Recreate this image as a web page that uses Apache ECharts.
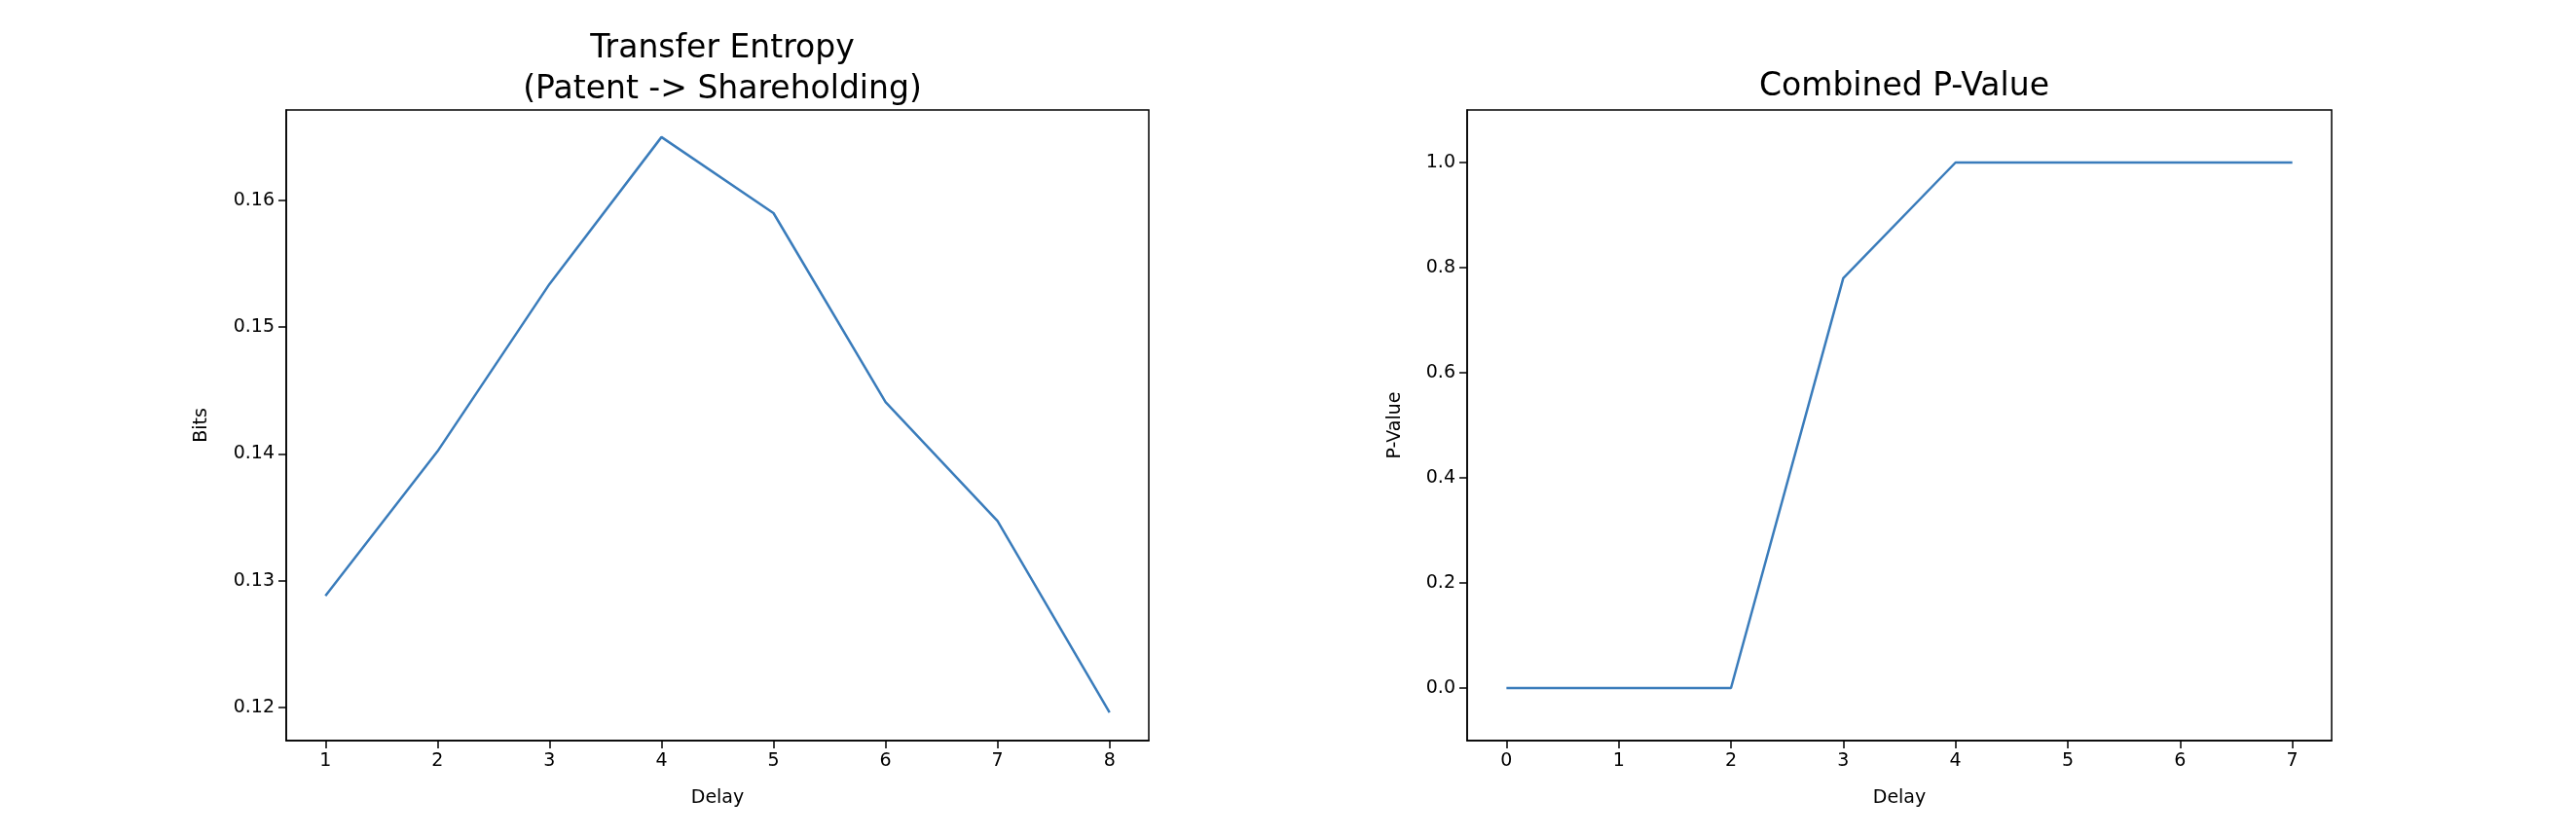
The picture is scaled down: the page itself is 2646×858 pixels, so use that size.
<!DOCTYPE html>
<html>
<head>
<meta charset="utf-8">
<script src="https://cdn.jsdelivr.net/npm/echarts@6/dist/echarts.min.js"></script>
<style>
  html, body { margin: 0; padding: 0; background: #fff; }
  #chart { width: 2646px; height: 858px; }
</style>
</head>
<body>
<div id="chart"></div>
<script>
// left panel: transfer entropy by delay
var teDelays = [1, 2, 3, 4, 5, 6, 7, 8];
var teValues = [0.1288, 0.1402, 0.1534, 0.1650, 0.1590, 0.1441, 0.1347, 0.1196];
var teXTicks = [1, 2, 3, 4, 5, 6, 7, 8];
var teYTicks = [0.12, 0.13, 0.14, 0.15, 0.16];

// right panel: combined p-value by delay
var pDelays = [0, 1, 2, 3, 4, 5, 6, 7];
var pValues = [0, 0, 0, 0.78, 1, 1, 1, 1];
var pXTicks = [0, 1, 2, 3, 4, 5, 6, 7];
var pYTicks = [0, 0.2, 0.4, 0.6, 0.8, 1.0];

var font = 'DejaVu Sans';
var lineColor = '#3a7cbb';

function xAxisOf(gridIndex, min, max, ticks) {
  return {
    type: 'value', gridIndex: gridIndex, min: min, max: max,
    name: 'Delay', nameLocation: 'middle', nameGap: 50,
    nameTextStyle: { fontFamily: font, fontSize: 19, color: '#000' },
    axisLine: { show: true, onZero: false, lineStyle: { color: '#000', width: 1.5 } },
    axisTick: { show: true, inside: false, length: 8, customValues: ticks, lineStyle: { color: '#000', width: 1.5 } },
    axisLabel: { customValues: ticks, margin: 12, fontFamily: font, fontSize: 19, color: '#000' },
    splitLine: { show: false }
  };
}

function yAxisOf(gridIndex, min, max, ticks, name, gap, digits) {
  return {
    type: 'value', gridIndex: gridIndex, min: min, max: max,
    name: name, nameLocation: 'middle', nameGap: gap, nameRotate: 90,
    nameTextStyle: { fontFamily: font, fontSize: 19, color: '#000' },
    axisLine: { show: true, onZero: false, lineStyle: { color: '#000', width: 1.5 } },
    axisTick: { show: true, inside: false, length: 8, customValues: ticks, lineStyle: { color: '#000', width: 1.5 } },
    axisLabel: {
      customValues: ticks, margin: 12, fontFamily: font, fontSize: 19, color: '#000',
      formatter: function (v) { return v.toFixed(digits); }
    },
    splitLine: { show: false }
  };
}

function pairs(xs, ys) {
  return xs.map(function (x, i) { return [x, ys[i]]; });
}

var chart = echarts.init(document.getElementById('chart'), null, { renderer: 'canvas' });
chart.setOption({
  backgroundColor: '#fff',
  animation: false,
  title: [
    {
      text: 'Transfer Entropy\n(Patent -> Shareholding)',
      left: 737, top: 24, textAlign: 'center',
      textStyle: { fontFamily: font, fontSize: 33, fontWeight: 'normal', color: '#000', lineHeight: 42 }
    },
    {
      text: 'Combined P-Value',
      left: 1951, top: 68, textAlign: 'center',
      textStyle: { fontFamily: font, fontSize: 33, fontWeight: 'normal', color: '#000' }
    }
  ],
  grid: [
    { left: 294, top: 113, width: 886, height: 648, show: true, borderColor: '#000', borderWidth: 1.5, backgroundColor: '#fff' },
    { left: 1507, top: 113, width: 888, height: 648, show: true, borderColor: '#000', borderWidth: 1.5, backgroundColor: '#fff' }
  ],
  xAxis: [
    xAxisOf(0, 0.65, 8.35, teXTicks),
    xAxisOf(1, -0.35, 7.35, pXTicks)
  ],
  yAxis: [
    yAxisOf(0, 0.11738, 0.16714, teYTicks, 'Bits', 77, 2),
    yAxisOf(1, -0.1, 1.1, pYTicks, 'P-Value', 64, 1)
  ],
  series: [
    {
      type: 'line', xAxisIndex: 0, yAxisIndex: 0,
      data: pairs(teDelays, teValues),
      showSymbol: false, lineStyle: { color: lineColor, width: 2.5 }
    },
    {
      type: 'line', xAxisIndex: 1, yAxisIndex: 1,
      data: pairs(pDelays, pValues),
      showSymbol: false, lineStyle: { color: lineColor, width: 2.5 }
    }
  ]
});
</script>
</body>
</html>
